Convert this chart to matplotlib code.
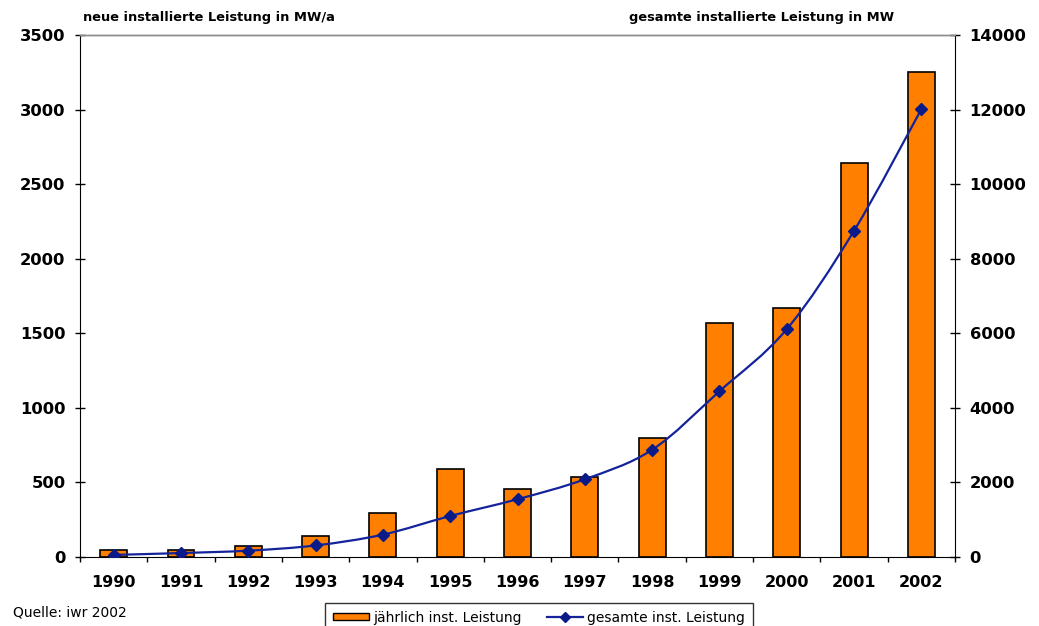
import matplotlib
matplotlib.use("Agg")
import matplotlib.pyplot as plt
from matplotlib.path import Path
from matplotlib.patches import PathPatch, Patch
from matplotlib.lines import Line2D
import numpy as np

years = ["1990", "1991", "1992", "1993", "1994", "1995", "1996",
         "1997", "1998", "1999", "2000", "2001", "2002"]
annual_mw = [45, 48, 72, 143, 297, 588, 456, 536, 798, 1571, 1668, 2642, 3252]
total_mw = [56, 106, 170, 310, 600, 1100, 1550, 2085, 2875, 4445, 6110, 8750, 12010]

left_ticks = [0, 500, 1000, 1500, 2000, 2500, 3000, 3500]
right_ticks = [0, 2000, 4000, 6000, 8000, 10000, 12000, 14000]

BAR_COLOR = "#FF8000"
LINE_COLOR = "#14239A"
MARKER_COLOR = "#0A1A88"

fig = plt.figure(figsize=(10.39, 6.26), dpi=100)
ax = fig.add_axes([80 / 1039, 1 - 557 / 626, 875 / 1039, 522 / 626])
ax2 = ax.twinx()

x = np.arange(len(years))
ax.bar(x, annual_mw, width=0.40, color=BAR_COLOR, edgecolor="black",
       linewidth=1.2, zorder=2)

ax.set_xlim(-0.5, len(years) - 0.5)
ax.set_ylim(0, 3500)
ax2.set_ylim(0, 14000)

# smoothed cumulative curve (Catmull-Rom spline converted to Bezier segments)
pts = np.column_stack([x, total_mw]).astype(float)
verts = [tuple(pts[0])]
codes = [Path.MOVETO]
n = len(pts)
for i in range(n - 1):
    p0 = pts[i - 1] if i > 0 else pts[i]
    p1 = pts[i]
    p2 = pts[i + 1]
    p3 = pts[i + 2] if i + 2 < n else pts[i + 1]
    c1 = p1 + (p2 - p0) / 6.0
    c2 = p2 - (p3 - p1) / 6.0
    verts += [tuple(c1), tuple(c2), tuple(p2)]
    codes += [Path.CURVE4] * 3
curve = PathPatch(Path(verts, codes), facecolor="none", edgecolor=LINE_COLOR,
                  linewidth=1.6, zorder=3)
ax2.add_patch(curve)
ax2.plot(x, total_mw, linestyle="none", marker="D", markersize=6.5,
         color=MARKER_COLOR, zorder=4)

# axes styling
for a in (ax, ax2):
    a.spines["top"].set_color("#8c8c8c")
    a.spines["top"].set_linewidth(1.0)
ax.spines["left"].set_color("black")
ax.spines["bottom"].set_color("black")
ax.spines["right"].set_visible(False)
ax2.spines["left"].set_visible(False)
ax2.spines["bottom"].set_visible(False)
ax2.spines["right"].set_color("black")

tick_font = dict(family="DejaVu Sans", weight="bold", size=11.8)

ax.set_yticks(left_ticks)
ax.set_yticklabels([str(v) for v in left_ticks], fontdict=tick_font)
ax.tick_params(axis="y", direction="inout", length=7, width=1, pad=7)

ax2.set_yticks(right_ticks)
ax2.set_yticklabels([str(v) for v in right_ticks], fontdict=tick_font)
ax2.tick_params(axis="y", direction="inout", length=7, width=1, pad=7)

ax.set_xticks(x)
ax.set_xticklabels(years, fontdict=dict(family="DejaVu Sans", weight="bold",
                                        size=11.5))
ax.set_xticks(np.arange(-0.5, len(years), 1.0), minor=True)
ax.tick_params(axis="x", which="major", length=0, pad=13)
ax.tick_params(axis="x", which="minor", direction="out", length=3.5, width=1)

# axis captions
title_font = dict(family="DejaVu Sans", weight="bold", size=9.4)
fig.text(83 / 1039, 1 - 17 / 626, "neue installierte Leistung in MW/a",
         ha="left", va="center", **title_font)
fig.text(894 / 1039, 1 - 17 / 626, "gesamte installierte Leistung in MW",
         ha="right", va="center", **title_font)

# source note
fig.text(13 / 1039, 1 - 613 / 626, "Quelle: iwr 2002", ha="left", va="center",
         family="DejaVu Sans", size=10)

# legend
handles = [
    Patch(facecolor=BAR_COLOR, edgecolor="black", linewidth=1.0),
    Line2D([0], [0], color=LINE_COLOR, linewidth=1.6, marker="D",
           markersize=5.5, markerfacecolor=MARKER_COLOR,
           markeredgecolor=MARKER_COLOR),
]
labels = ["jährlich inst. Leistung", "gesamte inst. Leistung"]
leg = fig.legend(handles, labels, loc="upper center",
                 bbox_to_anchor=(539 / 1039, 1 - 603 / 626), ncol=2,
                 frameon=True, fancybox=False, edgecolor="black",
                 prop=dict(family="DejaVu Sans", size=10),
                 handlelength=2.6, handleheight=0.45, handletextpad=0.3,
                 columnspacing=1.8, borderpad=0.55, borderaxespad=0)
leg.get_frame().set_linewidth(1.0)

fig.savefig("out.png", dpi=100)
